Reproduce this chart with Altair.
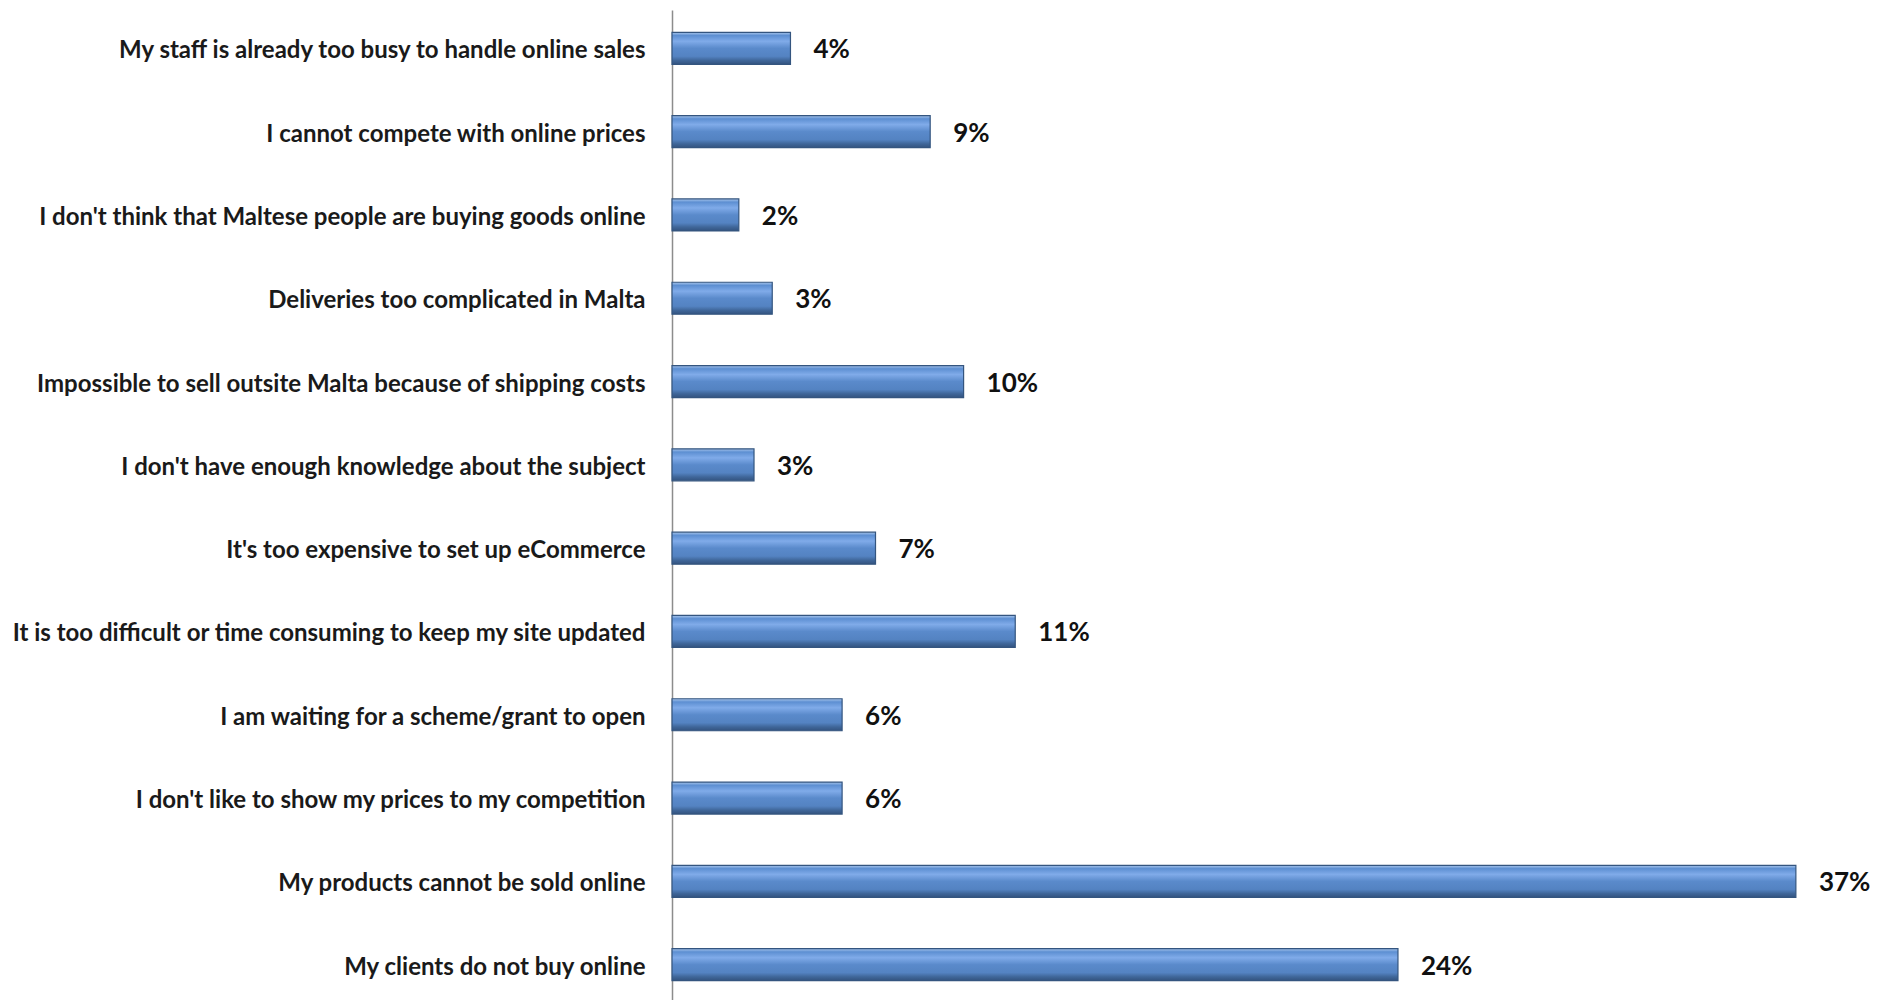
import altair as alt
import pandas as pd

categories = [
    "My staff is already too busy to handle online sales",
    "I cannot compete with online prices",
    "I don't think that Maltese people are buying goods online",
    "Deliveries too complicated  in Malta",
    "Impossible to sell outsite Malta  because of shipping  costs",
    "I don't have  enough knowledge  about  the subject",
    "It's too expensive to set up eCommerce",
    "It is too difficult  or time consuming  to keep my site updated",
    "I am waiting for a scheme/grant to open",
    "I don't like to show my prices to my competition",
    "My products cannot  be sold online",
    "My clients do not buy online",
]
values = [3.9, 8.5, 2.2, 3.3, 9.6, 2.7, 6.7, 11.3, 5.6, 5.6, 37.0, 23.9]
labels = ["4%", "9%", "2%", "3%", "10%", "3%", "7%", "11%", "6%", "6%", "37%", "24%"]

df = pd.DataFrame({"cat": categories, "val": values, "lab": labels})

CAT_FONT = "Lato, Liberation Sans, sans-serif"
VAL_FONT = "Lato, Liberation Sans, sans-serif"

grad = alt.Gradient(
    gradient="linear", x1=0, y1=0, x2=0, y2=1,
    stops=[
        alt.GradientStop(color="#a9c6ec", offset=0),
        alt.GradientStop(color="#5d8fd2", offset=0.1),
        alt.GradientStop(color="#80abe9", offset=0.28),
        alt.GradientStop(color="#5a8acb", offset=0.5),
        alt.GradientStop(color="#5483c2", offset=0.75),
        alt.GradientStop(color="#3f6699", offset=0.88),
        alt.GradientStop(color="#33537f", offset=1),
    ],
)

y_enc = alt.Y(
    "cat:N", sort=categories, title=None,
    scale=alt.Scale(paddingInner=0.616, paddingOuter=0.268),
    axis=alt.Axis(
        domain=True, domainColor="#8c8c8c", domainWidth=1.5,
        ticks=False, tickSize=0, grid=False,
        labelPadding=27, labelLimit=700, labelOffset=3,
        labelFont=CAT_FONT, labelFontSize=24, labelFontWeight="bold",
        labelColor="#1a1a1a",
    ),
)
x_enc = alt.X("val:Q", title=None, scale=alt.Scale(domain=[0, 40], nice=False), axis=None)

bars = alt.Chart(df).mark_bar(color=grad, stroke="#34557f", strokeWidth=1.2).encode(
    y=y_enc, x=x_enc
)
text = alt.Chart(df).mark_text(
    align="left", baseline="middle", dx=23, dy=2,
    font=VAL_FONT, fontSize=26, fontWeight="bold", color="#111111",
).encode(y=alt.Y("cat:N", sort=categories), x="val:Q", text="lab:N")

chart = (
    alt.layer(bars, text)
    .properties(
        width=1215, height=993,
        background="white",
        autosize=alt.AutoSizeParams(type="none"),
        padding={"left": 672, "top": 10, "right": 0, "bottom": 0},
    )
    .configure_view(strokeWidth=0, stroke="transparent")
)

chart.save("out.html", embed_options={"renderer": "svg", "actions": False})
